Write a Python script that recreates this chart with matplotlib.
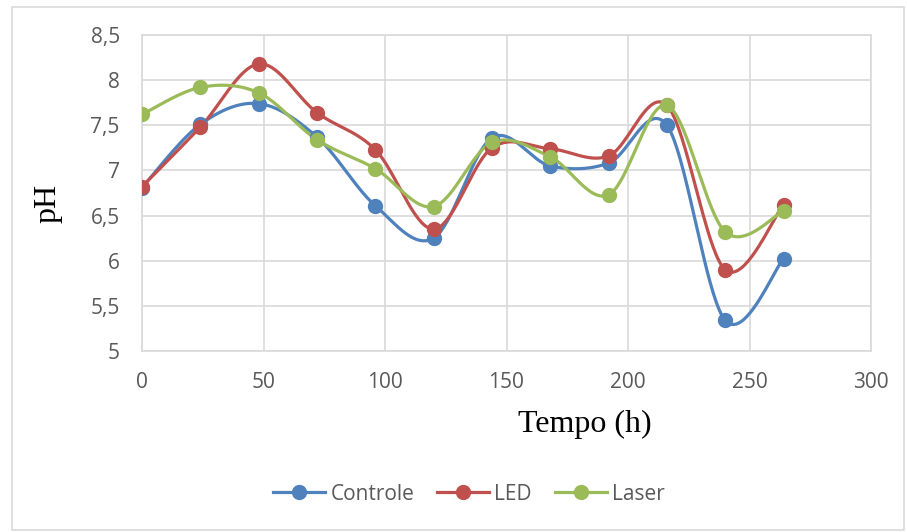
import numpy as np
import matplotlib
matplotlib.use("Agg")
from matplotlib import pyplot as plt
from matplotlib.ticker import FuncFormatter, MultipleLocator
from matplotlib.lines import Line2D
from matplotlib.patches import Rectangle

# data
tempo = [0, 24, 48, 72, 96, 120, 144, 168, 192, 216, 240, 264]
controle = [6.81, 7.51, 7.74, 7.37, 6.61, 6.25, 7.36, 7.05, 7.08, 7.50, 5.34, 6.02]
led = [6.82, 7.48, 8.18, 7.64, 7.23, 6.35, 7.25, 7.24, 7.16, 7.72, 5.90, 6.62]
laser = [7.62, 7.92, 7.86, 7.34, 7.02, 6.60, 7.31, 7.15, 6.73, 7.72, 6.32, 6.55]
series_names = ["Controle", "LED", "Laser"]
colors = ["#4F81BD", "#C0504D", "#9BBB59"]

tick_font = "Open Sans"
text_color = "#595959"


def smooth(x, y, n=40):
    # Excel-like smoothed line: cubic bezier with catmull-rom control points
    x = np.asarray(x, float)
    y = np.asarray(y, float)
    xs, ys = [x[0]], [y[0]]
    t = np.linspace(0, 1, n)[1:]
    for i in range(len(x) - 1):
        x0, y0 = (x[i - 1], y[i - 1]) if i > 0 else (x[i], y[i])
        x3, y3 = (x[i + 2], y[i + 2]) if i + 2 < len(x) else (x[i + 1], y[i + 1])
        c1x = x[i] + (x[i + 1] - x0) / 6
        c1y = y[i] + (y[i + 1] - y0) / 6
        c2x = x[i + 1] - (x3 - x[i]) / 6
        c2y = y[i + 1] - (y3 - y[i]) / 6
        bx = (1 - t) ** 3 * x[i] + 3 * (1 - t) ** 2 * t * c1x + 3 * (1 - t) * t ** 2 * c2x + t ** 3 * x[i + 1]
        by = (1 - t) ** 3 * y[i] + 3 * (1 - t) ** 2 * t * c1y + 3 * (1 - t) * t ** 2 * c2y + t ** 3 * y[i + 1]
        xs.extend(bx)
        ys.extend(by)
    return np.array(xs), np.array(ys)


fig = plt.figure(figsize=(9.07, 5.32), dpi=100)
ax = fig.add_axes([142 / 907, 1 - 351 / 532, 729 / 907, 316 / 532])

handles = []
for name, vals, c in zip(series_names, [controle, led, laser], colors):
    sx, sy = smooth(tempo, vals)
    ax.plot(sx, sy, color=c, lw=2.3, solid_capstyle="round", zorder=3)
    ax.plot(tempo, vals, "o", color=c, ms=10, zorder=4)
    handles.append(Line2D([], [], color=c, lw=2.3, marker="o", ms=10))

ax.set_xlim(0, 300)
ax.set_ylim(5, 8.5)
ax.xaxis.set_major_locator(MultipleLocator(50))
ax.yaxis.set_major_locator(MultipleLocator(0.5))
ax.yaxis.set_major_formatter(FuncFormatter(lambda v, p: ("%g" % v).replace(".", ",")))
ax.grid(True, color="#D9D9D9", lw=1.2)
ax.set_axisbelow(True)
for s in ax.spines.values():
    s.set_color("#D9D9D9")
    s.set_linewidth(1.2)
ax.tick_params(length=0, labelsize=15, labelcolor=text_color)
ax.tick_params(axis="x", pad=15)
ax.tick_params(axis="y", pad=16)
for lab in ax.get_xticklabels() + ax.get_yticklabels():
    lab.set_fontfamily(tick_font)

fig.text(585 / 907, 1 - 424 / 532, "Tempo (h)", fontfamily="Liberation Serif", fontsize=23,
         ha="center", va="center")
fig.text(48 / 907, 1 - 203 / 532, "pH", fontfamily="Liberation Serif", fontsize=23,
         ha="center", va="center", rotation=90)

fig.legend(handles, series_names, loc="center", bbox_to_anchor=(469 / 907, 1 - 494 / 532),
           ncol=3, frameon=False, handlelength=2.5, columnspacing=1.1, handletextpad=0.25,
           prop={"family": tick_font, "size": 15}, labelcolor=text_color)

fig.patches.append(Rectangle((12 / 907, 2 / 532), 892 / 907, 523 / 532, transform=fig.transFigure,
                             fill=False, edgecolor="#D9D9D9", lw=1.2))

fig.savefig("out.png", dpi=100)
